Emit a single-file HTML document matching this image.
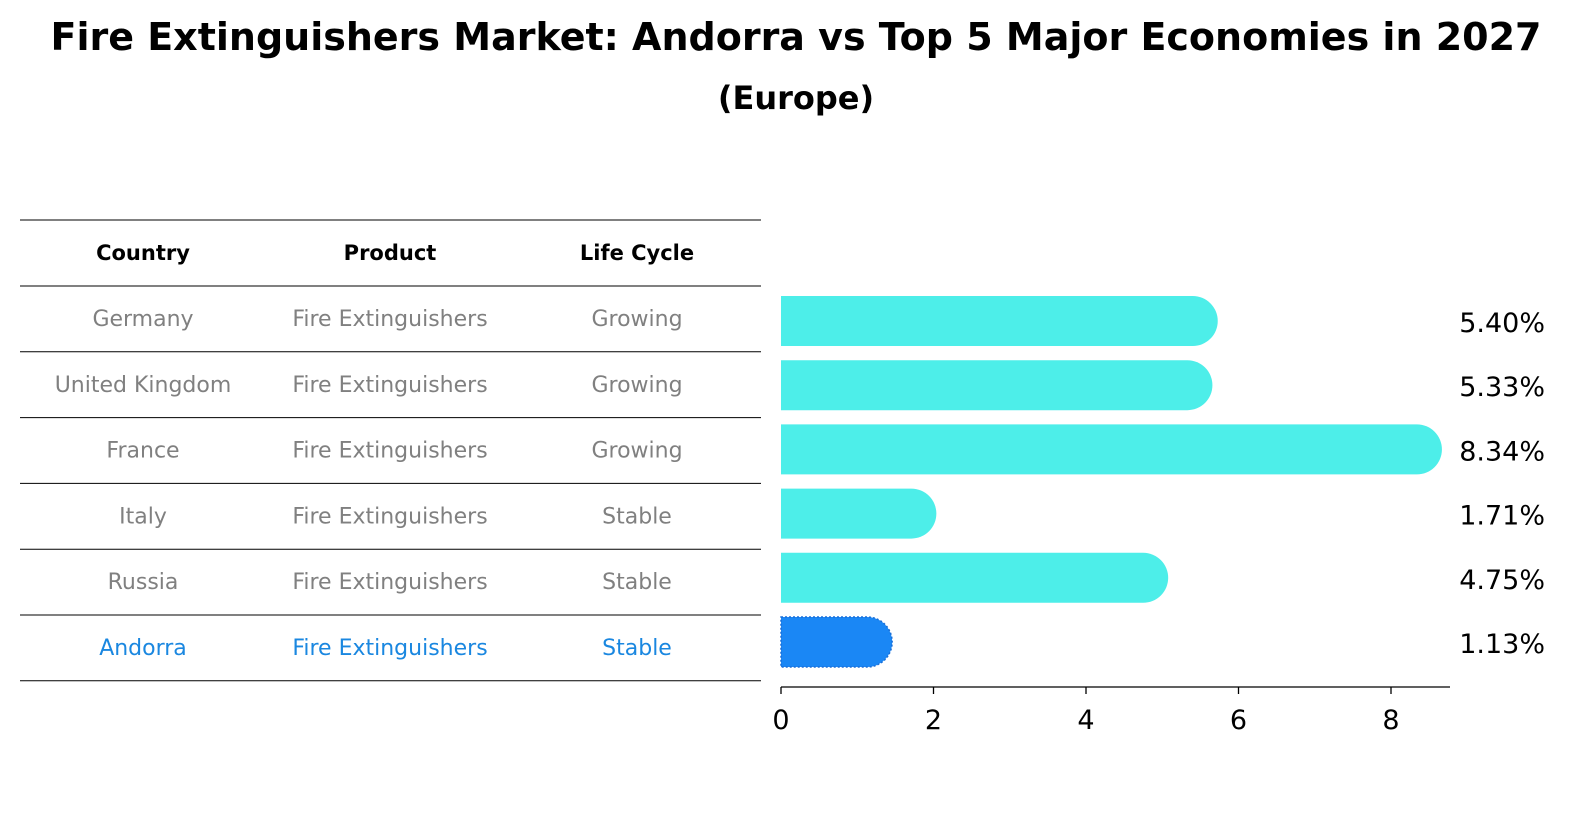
<!DOCTYPE html>
<html><head><meta charset="utf-8">
<style>
body{margin:0;background:#fff;font-family:"Liberation Sans","DejaVu Sans",sans-serif;}
svg{display:block}
</style></head>
<body>
<svg id="chart" width="1589" height="823" xmlns="http://www.w3.org/2000/svg" font-family="'DejaVu Sans', 'Liberation Sans', sans-serif">
<text x="796" y="50" text-anchor="middle" font-size="38" font-weight="bold">Fire Extinguishers Market: Andorra vs Top 5 Major Economies in 2027</text>
<text x="796" y="109" text-anchor="middle" font-size="32" font-weight="bold">(Europe)</text>
<g id="table"></g>
<g id="bars"></g>
<g id="axis"></g>
</svg>
<script>
const countries=["Germany","United Kingdom","France","Italy","Russia","Andorra"];
const products=["Fire Extinguishers","Fire Extinguishers","Fire Extinguishers","Fire Extinguishers","Fire Extinguishers","Fire Extinguishers"];
const lifeCycles=["Growing","Growing","Growing","Stable","Stable","Stable"];
const values=[5.40,5.33,8.34,1.71,4.75,1.13];
const xTicks=[0,2,4,6,8];
const NS="http://www.w3.org/2000/svg";
function mk(tag,attrs,parent){const e=document.createElementNS(NS,tag);for(const k in attrs)e.setAttribute(k,attrs[k]);parent.appendChild(e);return e;}
const x0=781,pxPer=76.25;
const xs=v=>x0+v*pxPer;
const rowY=i=>321+i*64.2;
const table=document.getElementById('table'),bars=document.getElementById('bars'),axis=document.getElementById('axis');
const colX=[143,390,637];
const lineYs=[220,286];
for(let i=0;i<=countries.length-1;i++)lineYs.push(286+(i+1)*65.8);
lineYs.forEach(y=>{const l=mk('line',{x1:20,x2:761,y1:y,y2:y,stroke:'#000','stroke-width':1},table);

});
["Country","Product","Life Cycle"].forEach((h,j)=>{const t=mk('text',{x:colX[j],y:260,'text-anchor':'middle','font-size':21,'font-weight':'bold'},table);t.textContent=h;

});
countries.forEach((c,i)=>{const y=286+i*65.8+40;const col=i===countries.length-1?'#1a87e0':'#808080';
[c,products[i],lifeCycles[i]].forEach((v,j)=>{const t=mk('text',{x:colX[j],y:y,'text-anchor':'middle','font-size':22,fill:col},table);t.textContent=v;

});});
const h=50,r=25;
values.forEach((v,i)=>{const yc=rowY(i);const end=xs(v);const last=i===values.length-1;
const p=mk('path',{d:`M${x0},${yc-h/2} H${end} A${r},${r} 0 0 1 ${end},${yc+h/2} H${x0} Z`,fill:last?'#1a87f5':'#4deee9'},bars);
if(last){p.setAttribute('stroke','#1a6fd8');p.setAttribute('stroke-dasharray','2,2');p.setAttribute('stroke-width','1.5');}


const t=mk('text',{x:1545,y:yc+11,'text-anchor':'end','font-size':27},bars);t.textContent=v.toFixed(2)+'%';

});
const al=mk('line',{x1:x0,x2:1450,y1:687,y2:687,stroke:'#000','stroke-width':1.3},axis);


xTicks.forEach(v=>{const x=xs(v);const tk=mk('line',{x1:x,x2:x,y1:687,y2:694,stroke:'#000','stroke-width':1.3},axis);


const t=mk('text',{x:x,y:729,'text-anchor':'middle','font-size':27},axis);t.textContent=v;

});
</script>
</body></html>
